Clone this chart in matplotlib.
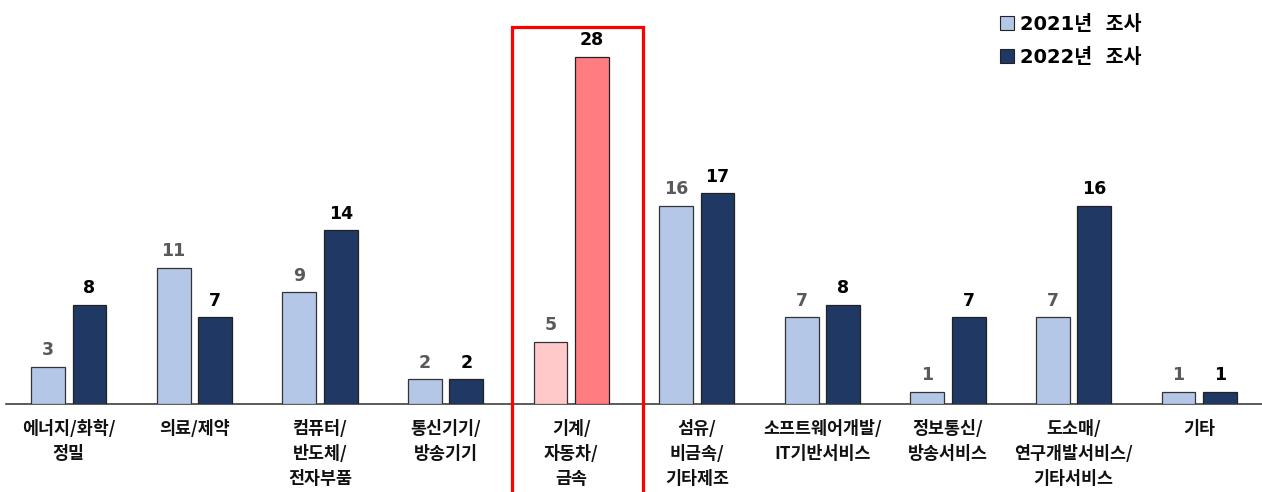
import numpy as np
import matplotlib
matplotlib.use('Agg')
import matplotlib.pyplot as plt
from matplotlib.patches import Rectangle, Patch

plt.rcParams['font.family'] = ['Noto Sans CJK KR', 'DejaVu Sans']

## chart data
categories = ['에너지/화학/\n정밀', '의료/제약', '컴퓨터/\n반도체/\n전자부품', '통신기기/\n방송기기',
              '기계/\n자동차/\n금속', '섬유/\n비금속/\n기타제조', '소프트웨어개발/\nIT기반서비스',
              '정보통신/\n방송서비스', '도소매/\n연구개발서비스/\n기타서비스', '기타']
survey_2021 = [3, 11, 9, 2, 5, 16, 7, 1, 7, 1]
survey_2022 = [8, 7, 14, 2, 28, 17, 8, 7, 16, 1]
series_labels = ['2021년  조사', '2022년  조사']
highlight = 4  # 기계/자동차/금속

c21 = '#B4C7E7'
c22 = '#1F3864'
c21_hi = '#FFC9C9'
c22_hi = '#FF7C80'
num_font = ['DejaVu Sans', 'Noto Sans CJK KR']

fig = plt.figure(figsize=(12.62, 4.92), dpi=100)
ax = fig.add_axes([6 / 1262, 88 / 492, 1256 / 1262, 404 / 492])

x = np.arange(len(categories))
w = 0.27
off = 0.165
cols21 = [c21_hi if i == highlight else c21 for i in x]
cols22 = [c22_hi if i == highlight else c22 for i in x]
ax.bar(x - off, survey_2021, w, color=cols21, edgecolor='#333333', linewidth=0.9, zorder=3)
ax.bar(x + off, survey_2022, w, color=cols22, edgecolor='#222222', linewidth=0.9, zorder=3)

for xi, v in zip(x, survey_2021):
    ax.annotate(str(v), (xi - off, v), xytext=(0, 5.5), textcoords='offset points',
                ha='center', va='bottom', fontsize=12.5, fontweight='bold', color='#595959',
                family=num_font)
for xi, v in zip(x, survey_2022):
    ax.annotate(str(v), (xi + off, v), xytext=(0, 5.5), textcoords='offset points',
                ha='center', va='bottom', fontsize=12.5, fontweight='bold', color='black',
                family=num_font)

ax.set_xlim(-0.5, len(categories) - 0.5)
ax.set_ylim(0, 404 / 12.4)
ax.set_yticks([])
ax.set_xticks([])
for s in ['left', 'right', 'top']:
    ax.spines[s].set_visible(False)
ax.spines['bottom'].set_color('#404040')
ax.spines['bottom'].set_linewidth(1.2)

trans = ax.get_xaxis_transform()
for xi, lab in zip(x, categories):
    ax.text(xi, -0.04, lab, transform=trans, ha='center', va='top', fontsize=12.5,
            fontweight='bold', linespacing=1.5, color='#111111')

# red box around highlighted category (runs off the bottom edge)
rect = Rectangle((highlight - 0.47, -0.3), 1.04, 0.3 + 377 / 404, transform=trans,
                 fill=False, edgecolor='#FF0000', linewidth=2.3, clip_on=False, zorder=5)
ax.add_patch(rect)

handles = [Patch(facecolor=c21, edgecolor='#222222', linewidth=0.8),
           Patch(facecolor=c22, edgecolor='#222222', linewidth=0.8)]
fig.legend(handles, series_labels, loc='upper left', bbox_to_anchor=(982 / 1262, 1.005),
           frameon=False, prop={'size': 14, 'weight': 'bold', 'family': num_font},
           handlelength=0.75, handleheight=0.75, handletextpad=0.3, labelspacing=0.7)

fig.savefig('out.png', dpi=100)
